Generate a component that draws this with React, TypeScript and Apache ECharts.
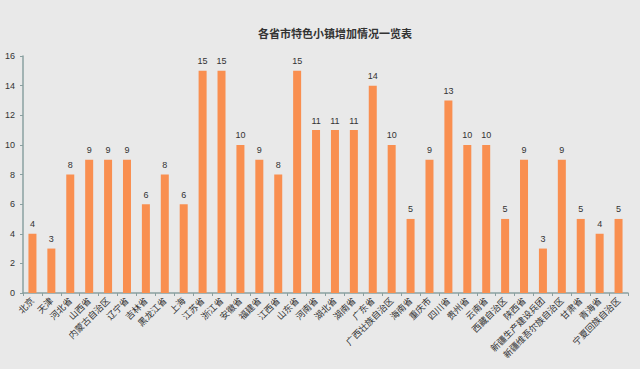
import React, { useEffect, useRef } from "react";
import * as echarts from "echarts";

const titleText = "各省市特色小镇增加情况一览表";
const categories = [
  "北京", "天津", "河北省", "山西省", "内蒙古自治区", "辽宁省", "吉林省", "黑龙江省",
  "上海", "江苏省", "浙江省", "安徽省", "福建省", "江西省", "山东省", "河南省",
  "湖北省", "湖南省", "广东省", "广西壮族自治区", "海南省", "重庆市", "四川省", "贵州省",
  "云南省", "西藏自治区", "陕西省", "新疆生产建设兵团", "新疆维吾尔族自治区", "甘肃省", "青海省", "宁夏回族自治区",
];
const values = [
  4, 3, 8, 9, 9, 9, 6, 8,
  6, 15, 15, 10, 9, 8, 15, 11,
  11, 11, 14, 10, 5, 9, 13, 10,
  10, 5, 9, 3, 9, 5, 4, 5,
];

export default function App() {
  const ref = useRef<HTMLDivElement>(null);
  useEffect(() => {
    if (!ref.current) return;
    const chart = echarts.init(ref.current, null, { renderer: "svg" });
    chart.setOption({
      animation: false,
      backgroundColor: "#e9e9e9",
      title: {
        text: titleText,
        left: 330,
        textAlign: "center",
        top: 22,
        textStyle: { fontSize: 11, fontWeight: "bold", color: "#333", fontFamily: "Noto Sans CJK SC" },
      },
      grid: { left: 23, right: 12, top: 56, bottom: 76, containLabel: false },
      xAxis: {
        type: "category",
        data: categories,
        axisLine: { lineStyle: { color: "#8aa0a0", width: 1.5 } },
        axisTick: { show: true, lineStyle: { color: "#8aa0a0" }, length: 3 },
        axisLabel: {
          interval: 0,
          rotate: 45,
          fontSize: 9,
          color: "#333",
          fontFamily: "Noto Sans CJK SC",
          margin: 6,
        },
      },
      yAxis: {
        type: "value",
        min: 0,
        max: 16,
        interval: 2,
        axisLine: { show: true, lineStyle: { color: "#8aa0a0", width: 1.5 } },
        axisTick: { show: true, lineStyle: { color: "#8aa0a0" }, length: 3 },
        splitLine: { show: false },
        axisLabel: { fontSize: 9, color: "#333", fontFamily: "Liberation Sans", margin: 8 },
      },
      series: [
        {
          type: "bar",
          data: values,
          barWidth: 8,
          itemStyle: { color: "#f98f50" },
          label: {
            show: true,
            position: "top",
            fontSize: 9,
            color: "#333",
            fontFamily: "Liberation Sans",
            distance: 5,
          },
        },
      ],
    });
    return () => chart.dispose();
  }, []);
  return <div ref={ref} style={{ width: 640, height: 369, position: "absolute", left: 0, top: 0 }} />;
}
